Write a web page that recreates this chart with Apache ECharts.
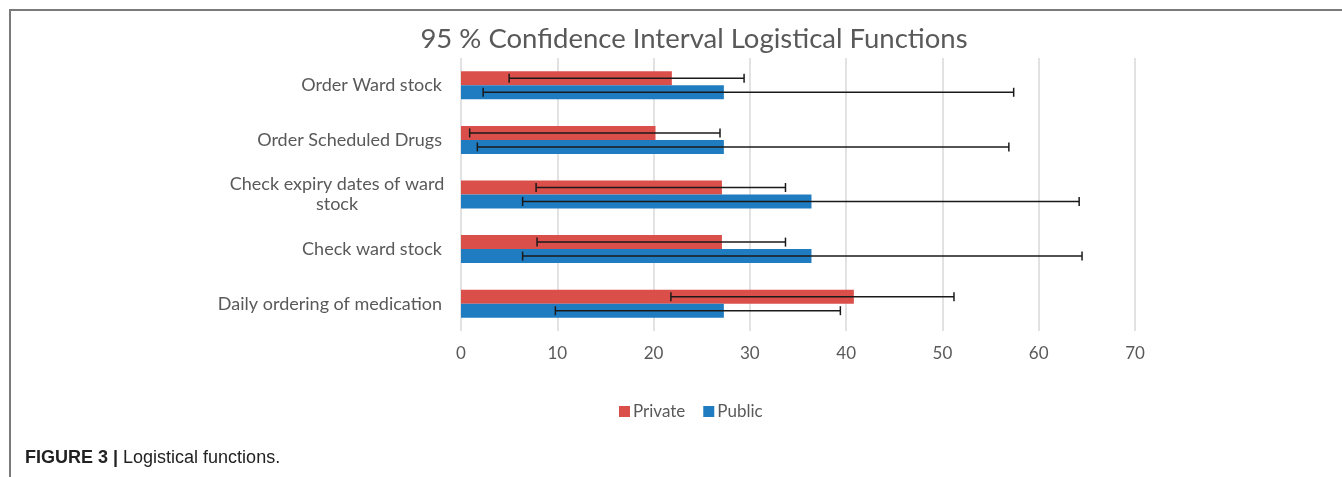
<!DOCTYPE html>
<html>
<head>
<meta charset="utf-8">
<script src="https://cdn.jsdelivr.net/npm/echarts@6/dist/echarts.min.js"></script>
<style>
html,body{margin:0;padding:0;background:#fff;}
#chart{width:1342px;height:477px;}
</style>
</head>
<body>
<div id="chart"></div>
<script>
// Categories listed bottom to top (ECharts category y-axis order)
const categories = [
  'Daily ordering of medication',
  'Check ward stock',
  'Check expiry dates of ward stock',
  'Order Scheduled Drugs',
  'Order Ward stock'
];
const privateValues = [40.8, 27.1, 27.1, 20.2, 21.9];
const privateLow    = [21.8, 7.9, 7.8, 0.9, 5.0];
const privateHigh   = [51.2, 33.7, 33.7, 26.9, 29.4];
const publicValues  = [27.3, 36.4, 36.4, 27.3, 27.3];
const publicLow     = [9.8, 6.4, 6.4, 1.7, 2.3];
const publicHigh    = [39.4, 64.5, 64.2, 56.9, 57.4];
const xTicks = [0, 10, 20, 30, 40, 50, 60, 70];

const chart = echarts.init(document.getElementById('chart'), null, {renderer: 'canvas'});
const labelColor = '#595959';
const font = 'Lato, "Open Sans", sans-serif';
const BAR_FRAC = 0.256;

function errData(low, high, side) {
  return low.map((l, i) => [i, l, high[i], side]);
}
function renderErr(params, api) {
  const cat = api.value(0);
  const lo = api.coord([api.value(1), cat]);
  const hi = api.coord([api.value(2), cat]);
  const band = api.size([0, 1])[1];
  const y = lo[1] + api.value(3) * band * BAR_FRAC / 2;
  const cap = 4.5;
  const st = {stroke: '#1a1a1a', lineWidth: 1.5};
  return {type: 'group', children: [
    {type: 'line', shape: {x1: lo[0], y1: y, x2: hi[0], y2: y}, style: st},
    {type: 'line', shape: {x1: lo[0], y1: y - cap, x2: lo[0], y2: y + cap}, style: st},
    {type: 'line', shape: {x1: hi[0], y1: y - cap, x2: hi[0], y2: y + cap}, style: st}
  ]};
}

chart.setOption({
  animation: false,
  textStyle: {fontFamily: font},
  title: [{
    text: '95 % Confidence Interval Logistical Functions',
    left: 689, top: 20, textAlign: 'center',
    textStyle: {fontFamily: font, fontSize: 27.5, fontWeight: 'normal', color: labelColor}
  }, {
    text: '{b|FIGURE 3 |} Logistical functions.',
    left: 20, top: 444,
    textStyle: {
      fontFamily: '"Liberation Sans", Arial, sans-serif', fontSize: 18, fontWeight: 'normal', color: '#222',
      rich: {b: {fontFamily: '"Liberation Sans", Arial, sans-serif', fontSize: 18, fontWeight: 'bold', color: '#222'}}
    }
  }],
  legend: {
    data: ['Private', 'Public'],
    left: 614, top: 398,
    icon: 'rect', itemWidth: 11, itemHeight: 11, itemGap: 18,
    textStyle: {fontFamily: font, fontSize: 17, color: labelColor, padding: [0, 0, 0, -2]}
  },
  grid: {left: 461, right: 207, top: 58, bottom: 146, containLabel: false},
  xAxis: {
    type: 'value', min: 0, max: 70, interval: 10,
    axisLine: {show: false}, axisTick: {show: false},
    axisLabel: {
      fontFamily: font, fontSize: 17, color: labelColor, margin: 14,
      formatter: v => xTicks.includes(v) ? String(v) : ''
    },
    splitLine: {show: true, lineStyle: {color: '#d9d9d9', width: 1.5}}
  },
  yAxis: {
    type: 'category', data: categories,
    axisLine: {show: false}, axisTick: {show: false},
    axisLabel: {
      fontFamily: font, fontSize: 18, color: labelColor, margin: 19, lineHeight: 20,
      formatter: v => v === 'Check expiry dates of ward stock'
        ? '{c|Check expiry dates of ward}\n{c|stock}' : v,
      rich: {c: {fontFamily: font, fontSize: 18, color: labelColor, width: 210, align: 'center', lineHeight: 20}}
    }
  },
  series: [{
    name: 'Private', type: 'bar', data: privateValues,
    barWidth: (BAR_FRAC * 100) + '%', barGap: '0%',
    itemStyle: {color: '#DB4F4B'}
  }, {
    name: 'Public', type: 'bar', data: publicValues,
    barWidth: (BAR_FRAC * 100) + '%', barGap: '0%',
    itemStyle: {color: '#1F7CC1'}
  }, {
    type: 'custom', name: 'errPrivate', renderItem: renderErr,
    encode: {x: [1, 2], y: 0}, data: errData(privateLow, privateHigh, -1), z: 10
  }, {
    type: 'custom', name: 'errPublic', renderItem: renderErr,
    encode: {x: [1, 2], y: 0}, data: errData(publicLow, publicHigh, 1), z: 10
  }],
  graphic: [{
    type: 'line', shape: {x1: 9, y1: 10, x2: 1342, y2: 10},
    style: {stroke: '#7a7a7a', lineWidth: 2}
  }, {
    type: 'line', shape: {x1: 10, y1: 9, x2: 10, y2: 477},
    style: {stroke: '#7a7a7a', lineWidth: 2}
  }]
});
</script>
</body>
</html>
